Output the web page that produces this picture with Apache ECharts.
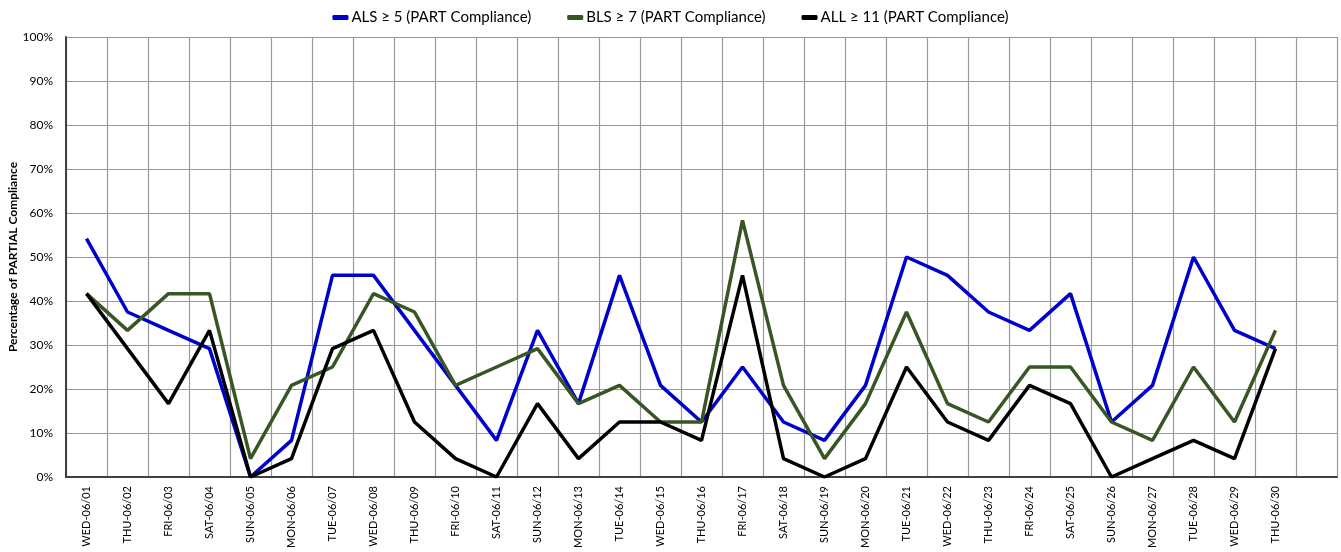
<!DOCTYPE html>
<html>
<head>
<meta charset="utf-8">
<script src="https://cdn.jsdelivr.net/npm/echarts@6/dist/echarts.min.js"></script>
<style>
  html, body { margin: 0; padding: 0; background: #fff; }
  #chart { width: 1341px; height: 552px; }
</style>
</head>
<body>
<div id="chart"></div>
<script>
// last slot is an empty category, as in the original sheet
const categories = [
  'WED-06/01', 'THU-06/02', 'FRI-06/03', 'SAT-06/04', 'SUN-06/05', 'MON-06/06', 'TUE-06/07',
  'WED-06/08', 'THU-06/09', 'FRI-06/10', 'SAT-06/11', 'SUN-06/12', 'MON-06/13', 'TUE-06/14',
  'WED-06/15', 'THU-06/16', 'FRI-06/17', 'SAT-06/18', 'SUN-06/19', 'MON-06/20', 'TUE-06/21',
  'WED-06/22', 'THU-06/23', 'FRI-06/24', 'SAT-06/25', 'SUN-06/26', 'MON-06/27', 'TUE-06/28',
  'WED-06/29', 'THU-06/30', ''
];

const alsValues = [
  54.17, 37.5, 33.33, 29.17, 0, 8.33, 45.83, 45.83, 33.33, 20.83,
  8.33, 33.33, 16.67, 45.83, 20.83, 12.5, 25, 12.5, 8.33, 20.83,
  50, 45.83, 37.5, 33.33, 41.67, 12.5, 20.83, 50, 33.33, 29.17
];
const blsValues = [
  41.67, 33.33, 41.67, 41.67, 4.17, 20.83, 25, 41.67, 37.5, 20.83,
  25, 29.17, 16.67, 20.83, 12.5, 12.5, 58.33, 20.83, 4.17, 16.67,
  37.5, 16.67, 12.5, 25, 25, 12.5, 8.33, 25, 12.5, 33.33
];
const allValues = [
  41.67, 29.17, 16.67, 33.33, 0, 4.17, 29.17, 33.33, 12.5, 4.17,
  0, 16.67, 4.17, 12.5, 12.5, 8.33, 45.83, 4.17, 0, 4.17,
  25, 12.5, 8.33, 20.83, 16.67, 0, 4.17, 8.33, 4.17, 29.17
];

const seriesNames = ['ALS \u2265 5 (PART Compliance)', 'BLS \u2265 7 (PART Compliance)', 'ALL \u2265 11 (PART Compliance)'];
const seriesColors = ['#0000cc', '#375623', '#000000'];

const font = 'Lato, "Open Sans", sans-serif';
const myChart = echarts.init(document.getElementById('chart'));

const makeLine = (name, data, color) => ({
  name: name,
  type: 'line',
  data: data,
  showSymbol: false,
  symbol: 'none',
  lineStyle: { color: color, width: 3.5 },
  itemStyle: { color: color },
  animation: false,
});

myChart.setOption({
  animation: false,
  textStyle: { fontFamily: font },
  legend: {
    top: 5,
    left: 'center',
    itemWidth: 16,
    itemHeight: 5,
    itemGap: 36,
    icon: 'roundRect',
    textStyle: { fontSize: 15, color: '#000', fontFamily: font, padding: [0, 0, 0, -2] },
    data: seriesNames,
  },
  grid: { left: 66, right: 4, top: 37, bottom: 75, containLabel: false, outerBoundsMode: 'none' },
  xAxis: {
    type: 'category',
    boundaryGap: true,
    data: categories,
    axisLine: { lineStyle: { color: '#404040', width: 2 } },
    axisTick: { show: false },
    axisLabel: { interval: 0, rotate: 90, fontSize: 11, color: '#000', margin: 9, fontFamily: font },
    splitLine: { show: true, interval: 0, lineStyle: { color: '#999', width: 1.2 } },
  },
  yAxis: {
    type: 'value',
    min: 0,
    max: 100,
    interval: 10,
    name: 'Percentage of PARTIAL Compliance',
    nameLocation: 'middle',
    nameGap: 47,
    nameRotate: 90,
    nameMoveOverlap: false,
    nameTextStyle: { fontSize: 12, fontWeight: 'bold', color: '#000', fontFamily: font },
    axisLine: { show: true, lineStyle: { color: '#404040', width: 2 } },
    axisTick: { show: false },
    axisLabel: { formatter: '{value}%', fontSize: 12, color: '#000', margin: 13, fontFamily: font },
    splitLine: { show: true, lineStyle: { color: '#999', width: 1.2 } },
  },
  series: [
    makeLine(seriesNames[0], alsValues, seriesColors[0]),
    makeLine(seriesNames[1], blsValues, seriesColors[1]),
    makeLine(seriesNames[2], allValues, seriesColors[2]),
  ],
});
</script>
</body>
</html>
